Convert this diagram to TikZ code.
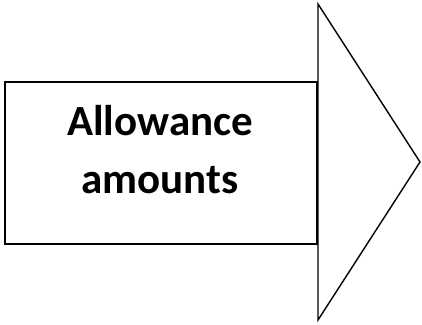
\documentclass[tikz,border=0pt]{standalone}
\usepackage{fontspec}
\setmainfont{Carlito}
\usepackage{tikz}

\begin{document}
\begin{tikzpicture}[x=1pt,y=1pt,line width=1.4pt,
    labelbox/.style={draw,rectangle,minimum width=312pt,minimum height=162pt,
      inner sep=0pt},
    labeltext/.style={align=center,inner sep=0pt,
      font=\fontsize{43}{58}\selectfont\bfseries}]
      % ---- page frame ---------------------------------
      \useasboundingbox (0,0) rectangle (422,324);

      % ---- text box -----------------------------------
      \node[labelbox] (box) at (161,161) {};
      \node[labeltext] (label) at (160,174) {Allowance\\amounts};

      % ---- arrow head ---------------------------------
      \coordinate (headtop) at (318,320);
      \coordinate (headbot) at (318,4);
      \coordinate (tip)     at (420,162);
      \draw[line join=miter] (headbot) -- (headtop) -- (tip) -- cycle;
    \end{tikzpicture}
\end{document}
